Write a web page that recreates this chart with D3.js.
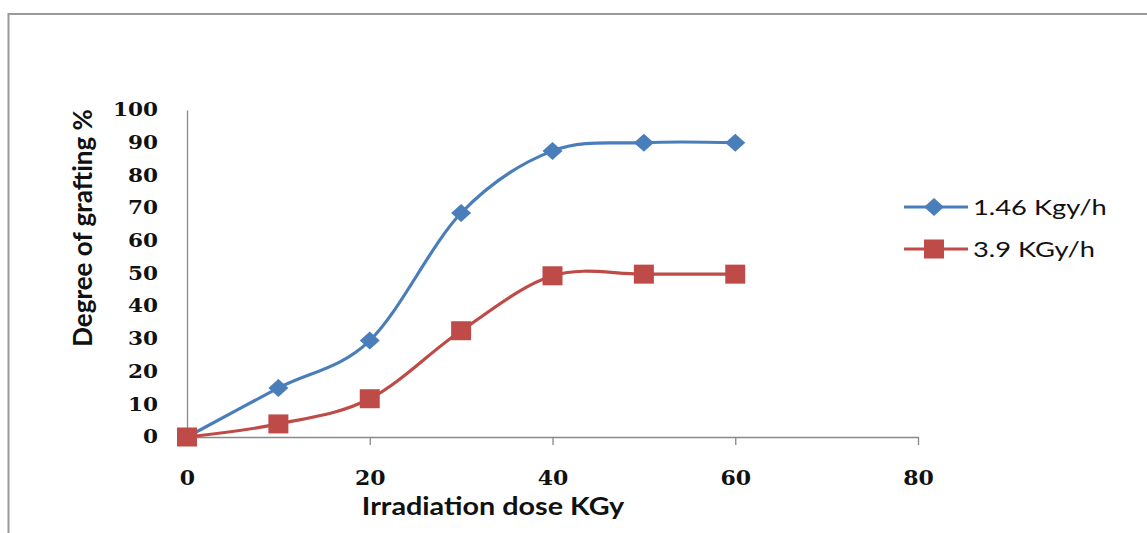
<!DOCTYPE html>
<html><head><meta charset="utf-8">
<script src="https://cdn.jsdelivr.net/npm/d3@7"></script>
<style>body{margin:0;background:#fff}svg{display:block}</style>
</head><body>
<svg id="c" width="1147" height="533"></svg>
<script>
const doses = [0, 10, 20, 30, 40, 50, 60];
const rate146 = [0, 15, 29.5, 68.5, 87.5, 90, 90];
const rate39 = [0, 4, 11.7, 32.5, 49.3, 49.8, 49.8];
const seriesNames = ["1.46 Kgy/h", "3.9 KGy/h"];
const xTicks = [0, 20, 40, 60, 80];
const yTicks = [0, 10, 20, 30, 40, 50, 60, 70, 80, 90, 100];
const xTitle = "Irradiation dose KGy";
const yTitle = "Degree of grafting %";

const svg = d3.select("#c");
svg.append("rect").attr("x", 8.5).attr("y", 14).attr("width", 1160).attr("height", 540)
  .attr("fill", "none").attr("stroke", "#9a9a9a").attr("stroke-width", 2);

const x = d3.scaleLinear().domain([0, 80]).range([187, 918]);
const y = d3.scaleLinear().domain([0, 100]).range([437, 110]);

// y axis
const ya = svg.append("g").attr("transform", "translate(187,0)")
  .call(d3.axisLeft(y).tickValues(yTicks).tickSize(0).tickPadding(29));
ya.select(".domain").attr("stroke", "#888").attr("stroke-width", 1.3);
ya.selectAll("text").attr("font-family", "'DejaVu Serif', serif").attr("font-weight", "bold")
  .attr("font-size", 18).attr("fill", "#111")
  .attr("transform", "translate(-29,0) scale(1.2,1) translate(29,0)");

// x axis
const xa = svg.append("g").attr("transform", "translate(0,437)")
  .call(d3.axisBottom(x).tickValues(xTicks).tickSizeInner(8).tickSizeOuter(0).tickPadding(26));
xa.select(".domain").attr("stroke", "#888").attr("stroke-width", 1.3);
xa.selectAll("line").attr("stroke", "#888").attr("stroke-width", 1.3);
xa.selectAll("text").attr("font-family", "'DejaVu Serif', serif").attr("font-weight", "bold")
  .attr("font-size", 20).attr("fill", "#111").attr("transform", "scale(1.1,1)");

svg.append("text").attr("transform", "translate(493,515) scale(1.15,1)").attr("text-anchor", "middle")
  .attr("font-family", "Lato, sans-serif").attr("font-weight", "bold").attr("font-size", 25)
  .attr("fill", "#111").text(xTitle);
svg.append("text").attr("transform", "translate(92,228) rotate(-90)").attr("text-anchor", "middle")
  .attr("font-family", "Lato, sans-serif").attr("font-weight", "bold").attr("font-size", 26)
  .attr("fill", "#111").text(yTitle);

const colors = ["#4A7EBB", "#BE4B48"];
const data = [rate146, rate39];
const line = d3.line().x((d, i) => x(doses[i])).y(d => y(d)).curve(d3.curveCardinal.tension(0));

const diamond = (cx, cy) => `M${cx},${cy-9}L${cx+10},${cy}L${cx},${cy+9}L${cx-10},${cy}Z`;

data.forEach((vals, s) => {
  svg.append("path").attr("d", line(vals)).attr("fill", "none")
    .attr("stroke", colors[s]).attr("stroke-width", 3.2);
});
rate146.forEach((v, i) => {
  svg.append("path").attr("d", diamond(x(doses[i]), y(v))).attr("fill", colors[0]);
});
rate39.forEach((v, i) => {
  svg.append("rect").attr("x", x(doses[i]) - 10).attr("y", y(v) - 9.5)
    .attr("width", 20).attr("height", 19).attr("fill", colors[1]);
});

// legend
const leg = [207, 249];
seriesNames.forEach((n, s) => {
  const ly = leg[s];
  svg.append("line").attr("x1", 904).attr("x2", 968).attr("y1", ly).attr("y2", ly)
    .attr("stroke", colors[s]).attr("stroke-width", 3.2);
  if (s === 0) svg.append("path").attr("d", diamond(934, ly)).attr("fill", colors[s]);
  else svg.append("rect").attr("x", 924).attr("y", ly - 9.5).attr("width", 20).attr("height", 19).attr("fill", colors[s]);
  svg.append("text").attr("transform", `translate(973,${ly}) scale(1.3,1)`).attr("dy", "0.36em")
    .attr("font-family", "Lato, sans-serif").attr("font-size", 21).attr("fill", "#111").text(n);
});
</script>
</body></html>
